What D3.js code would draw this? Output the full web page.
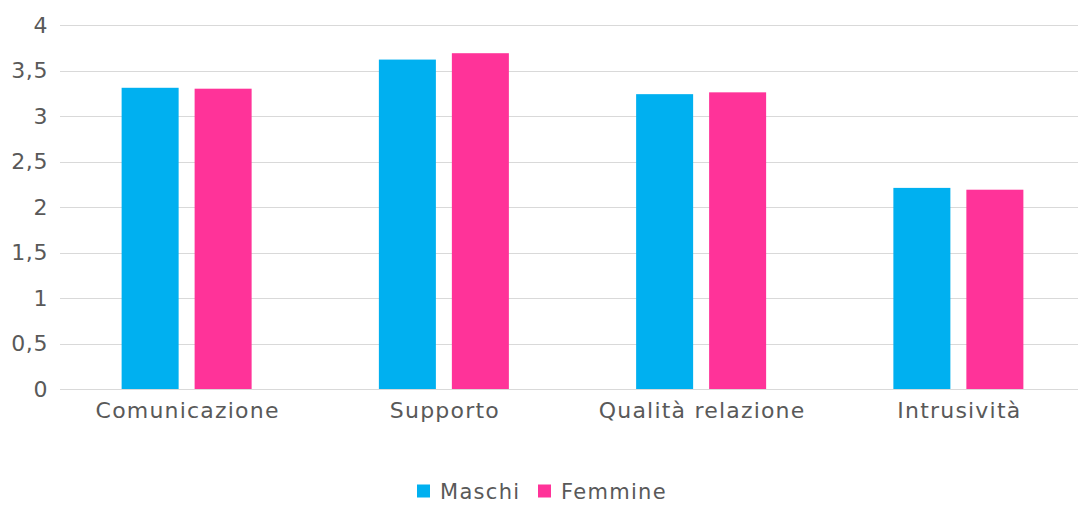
<!DOCTYPE html>
<html><head><meta charset="utf-8">
<script src="https://cdn.jsdelivr.net/npm/d3@7"></script>
<style>body{margin:0;background:#fff;} svg{display:block;}</style>
</head><body>
<svg id="c" width="1078" height="506"></svg>
<script>
const categories = ["Comunicazione", "Supporto", "Qualità relazione", "Intrusività"];
const seriesNames = ["Maschi", "Femmine"];
const maschi = [3.31, 3.62, 3.24, 2.21];
const femmine = [3.30, 3.69, 3.26, 2.19];
const yTicks = [0, 0.5, 1, 1.5, 2, 2.5, 3, 3.5, 4];
const colors = ["#00B0F0", "#FF3399"];

const svg = d3.select("#c");
const font = "DejaVu Sans";
const textColor = "#595959";

const y = d3.scaleLinear().domain([0, 4]).range([389, 25]);
const x0 = d3.scaleBand().domain(categories).range([58, 1087]).padding(0);
const groupW = 130;
const x1 = d3.scaleBand().domain(seriesNames).range([0, groupW]).paddingInner(0.219).paddingOuter(0);

// gridlines
svg.append("g").selectAll("line").data(yTicks).join("line")
  .attr("x1", 60).attr("x2", 1078)
  .attr("y1", d => Math.round(y(d)) + 0.5).attr("y2", d => Math.round(y(d)) + 0.5)
  .attr("stroke", "#d9d9d9").attr("stroke-width", 1);

// y axis labels
const fmt = d => String(d).replace(".", ",");
svg.append("g").selectAll("text").data(yTicks).join("text")
  .attr("x", 48).attr("y", d => y(d))
  .attr("dy", "0.36em").attr("text-anchor", "end")
  .attr("font-family", font).attr("font-size", 22).attr("letter-spacing", 0.6).attr("fill", textColor)
  .text(fmt);

// bars
const data = categories.map((c, i) => ({cat: c, vals: [{s: "Maschi", v: maschi[i]}, {s: "Femmine", v: femmine[i]}]}));
const groups = svg.append("g").selectAll("g").data(data).join("g")
  .attr("transform", d => `translate(${x0(d.cat) + (x0.bandwidth() - groupW) / 2},0)`);
groups.selectAll("rect").data(d => d.vals).join("rect")
  .attr("x", d => x1(d.s)).attr("width", x1.bandwidth())
  .attr("y", d => y(d.v)).attr("height", d => y(0) - y(d.v))
  .attr("fill", (d, i) => colors[i]);

// x labels
svg.append("g").selectAll("text").data(categories).join("text")
  .attr("x", d => x0(d) + x0.bandwidth() / 2 + 1).attr("y", 410)
  .attr("dy", "0.36em").attr("text-anchor", "middle")
  .attr("font-family", font).attr("font-size", 22).attr("letter-spacing", 1.2).attr("fill", textColor)
  .text(d => d);

// legend
const legendX = [417, 538];
const lg = svg.append("g").selectAll("g").data(seriesNames).join("g")
  .attr("transform", (d, i) => `translate(${legendX[i]},491)`);
lg.append("rect").attr("x", 0).attr("y", -6.5).attr("width", 13).attr("height", 13)
  .attr("fill", (d, i) => colors[i]);
lg.append("text").attr("x", 23).attr("y", 0).attr("dy", "0.36em")
  .attr("font-family", font).attr("font-size", 21).attr("letter-spacing", 1.3).attr("fill", textColor)
  .text(d => d);
</script>
</body></html>
